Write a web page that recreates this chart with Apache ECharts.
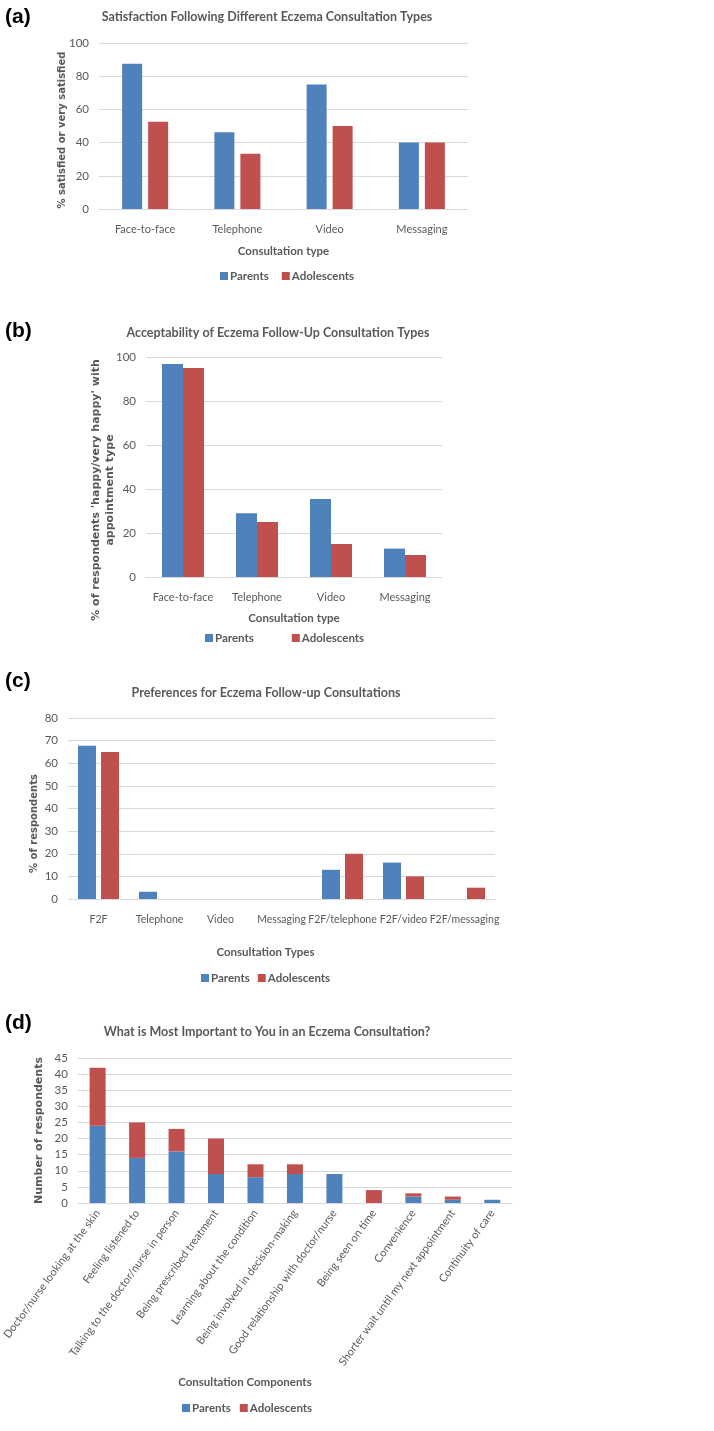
<!DOCTYPE html>
<html>
<head>
<meta charset="utf-8">
<script src="https://cdn.jsdelivr.net/npm/echarts@6/dist/echarts.min.js"></script>
<style>
  html, body { margin: 0; padding: 0; background: #fff; }
  #chart { width: 714px; height: 1431px; }
</style>
</head>
<body>
<div id="chart"></div>
<script>
// (a) satisfaction
var satCategories = ['Face-to-face', 'Telephone', 'Video', 'Messaging'];
var satParents = [87.5, 46.2, 75, 40];
var satAdolescents = [52.6, 33.3, 50, 40];

// (b) acceptability
var accCategories = ['Face-to-face', 'Telephone', 'Video', 'Messaging'];
var accParents = [96.8, 29, 35.5, 12.9];
var accAdolescents = [95, 25, 15, 10];

// (c) preferences
var prefCategories = ['F2F', 'Telephone', 'Video', 'Messaging', 'F2F/telephone', 'F2F/video', 'F2F/messaging'];
var prefParents = [67.7, 3.2, 0, 0, 12.9, 16.1, 0];
var prefAdolescents = [65, 0, 0, 0, 20, 10, 5];

// (d) most important
var compCategories = ['Doctor/nurse looking at the skin', 'Feeling listened to', 'Talking to the doctor/nurse in person',
    'Being prescribed treatment', 'Learning about the condition', 'Being involved in decision-making',
    'Good relationship with doctor/nurse', 'Being seen on time', 'Convenience',
    'Shorter wait until my next appointment', 'Continuity of care'];
var compParents = [24, 14, 16, 9, 8, 9, 9, 0, 2, 1, 1];
var compAdolescents = [18, 11, 7, 11, 4, 3, 0, 4, 1, 1, 0];

var BLUE = '#4F81BD', RED = '#C0504D';
var FONT = "Lato, 'Liberation Sans', sans-serif";
var YFONT = "'DejaVu Sans', sans-serif";
var GREY = '#595959', GRID = '#D9D9D9';

function panelTitle(text, x, y) {
    return { text: text, left: x, top: y, textAlign: 'center',
        textStyle: { fontFamily: FONT, fontSize: 12.5, fontWeight: 'bold', color: GREY } };
}
function tag(text, y) {
    return { text: text, left: 0, top: y,
        textStyle: { fontFamily: "'Liberation Sans', sans-serif", fontSize: 21, fontWeight: 'bold', color: '#000' } };
}
function legend(left, top, gap) {
    return { data: ['Parents', 'Adolescents'], left: left, top: top, itemGap: gap, icon: 'rect',
        itemWidth: 8, itemHeight: 8, selectedMode: false,
        textStyle: { fontFamily: FONT, fontSize: 11.5, fontWeight: 'bold', color: GREY, padding: [0, 0, 0, -3] } };
}
function xAxis(idx, cats, name, gap, extra) {
    var ax = {
        type: 'category', gridIndex: idx, data: cats,
        name: name, nameLocation: 'middle', nameGap: gap,
        nameTextStyle: { fontFamily: FONT, fontSize: 11.5, fontWeight: 'bold', color: GREY },
        axisLine: { lineStyle: { color: GRID } }, axisTick: { show: false },
        axisLabel: { fontFamily: FONT, fontSize: 11, color: GREY, margin: 15, interval: 0 }
    };
    return Object.assign(ax, extra || {});
}
function yAxis(idx, max, interval, name, gap, fs, shift) {
    return {
        type: 'value', gridIndex: idx, min: 0, max: max, interval: interval,
        name: name, nameLocation: 'middle', nameGap: gap, nameMoveOverlap: false,
        nameTextStyle: { fontFamily: YFONT, fontSize: fs, fontWeight: 'bold', color: GREY, lineHeight: 14,
            padding: [0, shift * 2, 0, 0] },
        axisLine: { show: false }, axisTick: { show: false },
        splitLine: { lineStyle: { color: GRID } },
        axisLabel: { fontFamily: FONT, fontSize: 11.5, color: GREY, margin: 10 }
    };
}

var chart = echarts.init(document.getElementById('chart'));
chart.setOption({
    backgroundColor: '#fff',
    animation: false,
    title: [
        tag('(a)', 2), tag('(b)', 316), tag('(c)', 666), tag('(d)', 1008),
        panelTitle('Satisfaction Following Different Eczema Consultation Types', 262, 5),
        panelTitle('Acceptability of Eczema Follow-Up Consultation Types', 273, 321),
        panelTitle('Preferences for Eczema Follow-up Consultations', 261, 681),
        panelTitle('What is Most Important to You in an Eczema Consultation?', 262, 1020)
    ],
    legend: [legend(215, 265, 13), legend(200, 627, 38), legend(196, 967, 8), legend(177, 1397, 9)],
    grid: [
        { left: 99, right: 246, top: 43, height: 166 },
        { left: 146, right: 272, top: 357, height: 220 },
        { left: 68, right: 219, top: 718, height: 181 },
        { left: 75, right: 202, top: 1058, height: 145 }
    ],
    xAxis: [
        xAxis(0, satCategories, 'Consultation type', 36),
        xAxis(1, accCategories, 'Consultation type', 35),
        xAxis(2, prefCategories, 'Consultation Types', 47,
            { nameTextStyle: { fontFamily: FONT, fontSize: 11.5, fontWeight: 'bold', color: GREY, padding: [0, 32, 0, 0] },
              axisLabel: { fontFamily: FONT, fontSize: 10.5, color: GREY, margin: 15, interval: 0 } }),
        xAxis(3, compCategories, 'Consultation Components', 173,
            { nameTextStyle: { fontFamily: FONT, fontSize: 11.5, fontWeight: 'bold', color: GREY, padding: [0, 100, 0, 0] },
              axisLabel: { fontFamily: FONT, fontSize: 11, color: GREY, margin: 8, interval: 0, rotate: 54 } })
    ],
    yAxis: [
        yAxis(0, 100, 20, '% satisfied or very satisfied', 30, 10, 4),
        yAxis(1, 100, 20, "% of respondents 'happy/very happy' with\nappointment type", 29, 11, 23),
        yAxis(2, 80, 10, '% of respondents', 27, 10, 15),
        yAxis(3, 45, 5, 'Number of respondents', 32, 11, 0)
    ],
    series: [
        { name: 'Parents', type: 'bar', xAxisIndex: 0, yAxisIndex: 0, data: satParents,
          itemStyle: { color: BLUE }, barWidth: 20, barGap: '30%' },
        { name: 'Adolescents', type: 'bar', xAxisIndex: 0, yAxisIndex: 0, data: satAdolescents,
          itemStyle: { color: RED }, barWidth: 20, barGap: '30%' },
        { name: 'Parents', type: 'bar', xAxisIndex: 1, yAxisIndex: 1, data: accParents,
          itemStyle: { color: BLUE }, barWidth: 21, barGap: '0%' },
        { name: 'Adolescents', type: 'bar', xAxisIndex: 1, yAxisIndex: 1, data: accAdolescents,
          itemStyle: { color: RED }, barWidth: 21, barGap: '0%' },
        { name: 'Parents', type: 'bar', xAxisIndex: 2, yAxisIndex: 2, data: prefParents,
          itemStyle: { color: BLUE }, barWidth: 18, barGap: '28%' },
        { name: 'Adolescents', type: 'bar', xAxisIndex: 2, yAxisIndex: 2, data: prefAdolescents,
          itemStyle: { color: RED }, barWidth: 18, barGap: '28%' },
        { name: 'Parents', type: 'bar', xAxisIndex: 3, yAxisIndex: 3, data: compParents, stack: 'd',
          itemStyle: { color: BLUE }, barWidth: 16 },
        { name: 'Adolescents', type: 'bar', xAxisIndex: 3, yAxisIndex: 3, data: compAdolescents, stack: 'd',
          itemStyle: { color: RED }, barWidth: 16 }
    ]
});
</script>
</body>
</html>
